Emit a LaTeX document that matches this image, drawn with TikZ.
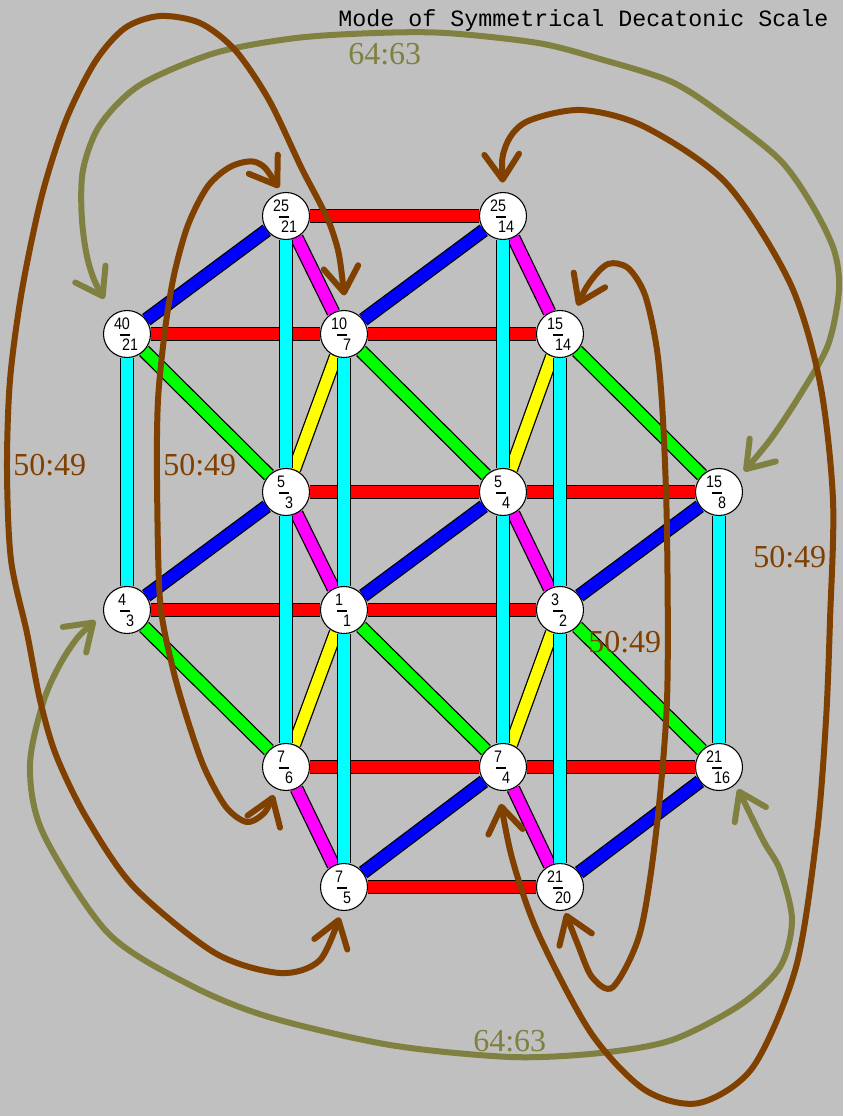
\documentclass[tikz,border=0pt]{standalone}
\usepackage{fontspec}
\setmainfont{Liberation Serif}
\newfontfamily\titlefont{Liberation Mono}
\newfontfamily\ratiofont[FakeStretch=0.86]{Liberation Sans}
\usetikzlibrary{arrows.meta}

\pgfdeclarelayer{backdrop}
\pgfdeclarelayer{bars}
\pgfsetlayers{backdrop,bars,main}

\definecolor{canvas}{RGB}{192,192,192}
\definecolor{rust}{RGB}{128,64,0}
\definecolor{moss}{RGB}{128,128,64}
\definecolor{barred}{RGB}{255,0,0}
\definecolor{barblue}{RGB}{0,0,255}
\definecolor{barcyan}{RGB}{0,255,255}
\definecolor{barmagenta}{RGB}{255,0,255}
\definecolor{baryellow}{RGB}{255,255,0}
\definecolor{bargreen}{RGB}{0,255,0}

\tikzset{
  ratio/.style={circle, draw=black, line width=0.8pt, fill=white,
    minimum size=35.25pt, inner sep=0pt},
  ratiotext/.style={font=\ratiofont\fontsize{12.5pt}{12.5pt}\selectfont, inner sep=0pt},
  fracbar/.style={line width=1.1pt, draw=black},
  lattice/.style={draw=#1, line width=8.6pt,
    preaction={draw=black, line width=10.5pt}},
  commaarc/.style={draw=#1, line width=4.5pt,
    >={Straight Barb[length=19pt,width=26pt,round]}, <->},
  rustarc/.style={commaarc=rust},
  mossarc/.style={commaarc=moss},
  interval/.style={text=#1, font=\fontsize{24pt}{24pt}\selectfont,
    inner sep=0pt, anchor=base west},
}

% a lattice point: circle with a stacked ratio inside
\newcommand\ratnode[4]{%
  \node[ratio] (#1) at (#2) {};
  \node[ratiotext] at ([shift={(-5,-10)}]#1.center) {#3};
  \draw[fracbar] ([shift={(-7,1)}]#1.center) -- ([shift={(3,1)}]#1.center);
  \node[ratiotext] at ([shift={(3,11)}]#1.center) {#4};
}

\begin{document}
\begin{tikzpicture}[x=0.75pt, y=-0.75pt]
\begin{pgfonlayer}{backdrop}
  \fill[canvas] (0,0) rectangle (843,1116);
\end{pgfonlayer}
\useasboundingbox (0,0) rectangle (843,1116);

% lattice points
\ratnode{n2521}{286,216}{25}{21}
\ratnode{n2514}{503,216}{25}{14}
\ratnode{n4021}{127,334}{40}{21}
\ratnode{n107}{344,334}{10}{7}
\ratnode{n1514}{560,334}{15}{14}
\ratnode{n53}{286,492}{5}{3}
\ratnode{n54}{503,492}{5}{4}
\ratnode{n158}{719,492}{15}{8}
\ratnode{n43}{127,610}{4}{3}
\ratnode{n11}{344,610}{1}{1}
\ratnode{n32}{560,610}{3}{2}
\ratnode{n76}{286,767}{7}{6}
\ratnode{n74}{503,767}{7}{4}
\ratnode{n2116}{719,767}{21}{16}
\ratnode{n75}{344,887}{7}{5}
\ratnode{n2120}{560,887}{21}{20}

% coloured bars between the lattice points
\begin{pgfonlayer}{bars}
  \foreach \a/\b in {n2521/n2514, n4021/n107, n107/n1514, n53/n54, n54/n158,
      n43/n11, n11/n32, n76/n74, n74/n2116, n75/n2120}
    \draw[lattice=barred] (\a) -- (\b);
  \foreach \a/\b in {n4021/n2521, n107/n2514, n43/n53, n11/n54, n32/n158,
      n75/n74, n2120/n2116}
    \draw[lattice=barblue] (\a) -- (\b);
  \foreach \a/\b in {n2521/n107, n2514/n1514, n53/n11, n54/n32, n76/n75, n74/n2120}
    \draw[lattice=barmagenta] (\a) -- (\b);
  \foreach \a/\b in {n53/n107, n54/n1514, n76/n11, n74/n32}
    \draw[lattice=baryellow] (\a) -- (\b);
  \foreach \a/\b in {n4021/n53, n107/n54, n1514/n158, n43/n76, n11/n74, n32/n2116}
    \draw[lattice=bargreen] (\a) -- (\b);
  \foreach \a/\b in {n2521/n53, n53/n76, n2514/n54, n54/n74, n4021/n43,
      n107/n11, n11/n75, n1514/n32, n32/n2120, n158/n2116}
    \draw[lattice=barcyan] (\a) -- (\b);
\end{pgfonlayer}

% 64:63 commas
\draw[mossarc, shorten <=13.5pt, shorten >=6.5pt] plot[smooth] coordinates {
  (n4021.126) (90,268) (82,220) (83,170) (100,125) (140,85) (215,53) (296,38)
  (376,33) (446,33) (538,43) (600,59) (672,82) (726,117) (780,160) (812,205)
  (834,250) (839,290) (828,345) (800,395) (770,440) (n158.36)};
\draw[mossarc, shorten <=8pt, shorten >=4pt] plot[smooth] coordinates {
  (n43.188) (70,648) (45,697) (30,765) (43,833) (108,933) (190,985) (269,1017)
  (390,1045) (511,1057) (600,1053) (672,1040) (740,1005) (780,967) (792,920)
  (780,870) (763,840) (n2116.314)};

% 50:49 commas
\draw[rustarc, shorten <=11pt, shorten >=5pt] plot[smooth] coordinates {
  (n107.85) (333,233) (301,167) (269,100) (235,50) (200,23) (160,16) (125,28)
  (95,62) (66,120) (42,195) (22,290) (10,380) (7,470) (11,560) (27,633)
  (40,700) (56,755) (86,817) (134,887) (215,953) (280,973) (320,960) (n75.264)};
\draw[rustarc, shorten <=4pt, shorten >=5pt] plot[smooth] coordinates {
  (n2521.100) (258,163) (232,166) (208,186) (188,225) (174,275) (165,330)
  (158,400) (157,480) (160,600) (172,665) (186,715) (204,767) (226,807)
  (247,822) (265,812) (n76.245)};
\draw[rustarc, shorten <=7pt, shorten >=10pt] plot[smooth] coordinates {
  (n2514.90) (505,148) (526,122) (581,110) (645,127) (726,183) (790,283)
  (820,383) (833,500) (830,620) (826,720) (817,833) (796,967) (753,1067)
  (699,1103) (645,1090) (591,1033) (538,933) (512,858) (n74.260)};
\draw[rustarc, shorten <=7pt, shorten >=2pt] plot[smooth] coordinates {
  (n1514.56) (590,282) (608,264) (628,268) (645,295) (657,350) (663,420)
  (667,533) (667,700) (656,833) (640,933) (613,987) (592,977) (578,945)
  (n2120.281)};

% interval labels
\node[interval=moss] (c1) at (348,65) {64:63};
\node[interval=moss] (c2) at (473,1051) {64:63};
\node[interval=rust] (c3) at (13,475) {50:49};
\node[interval=rust] (c4) at (163,475) {50:49};
\node[interval=rust] (c5) at (753,567) {50:49};
\node[interval=rust] (c6) at (588,652) {50:49};

% title
\node[anchor=base west, inner sep=0pt,
  font=\titlefont\fontsize{17.5pt}{17.5pt}\selectfont] (title) at (338,27)
  {Mode of Symmetrical Decatonic Scale};
\end{tikzpicture}
\end{document}
